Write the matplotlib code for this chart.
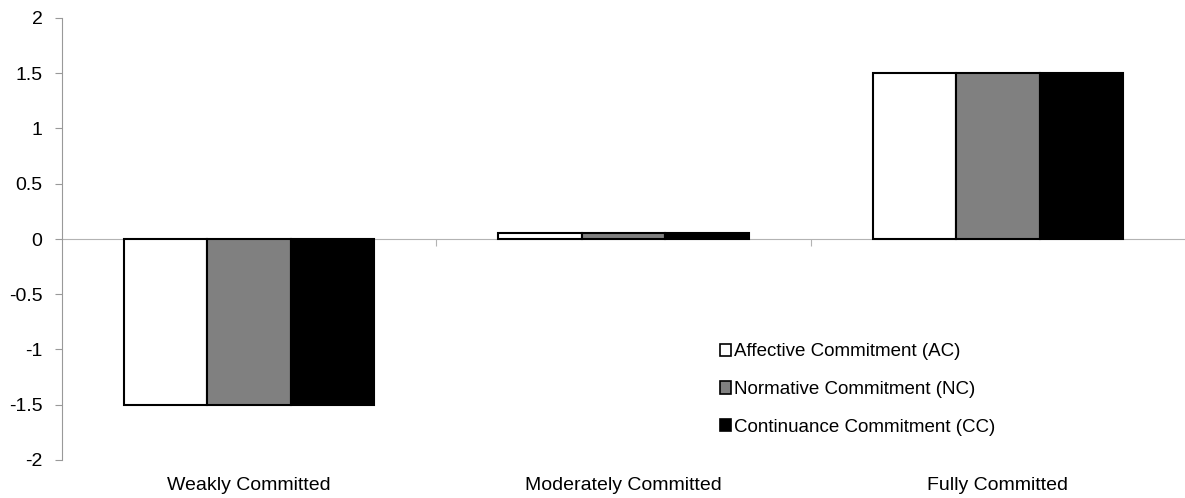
import numpy as np
import matplotlib
matplotlib.use("Agg")
import matplotlib.pyplot as plt
from matplotlib.patches import Patch

plt.rcParams['font.family'] = ['Liberation Sans', 'DejaVu Sans']

# data
categories = ['Weakly Committed', 'Moderately Committed', 'Fully Committed']
series = ['Affective Commitment (AC)', 'Normative Commitment (NC)', 'Continuance Commitment (CC)']
ac = [-1.5, 0.05, 1.5]
nc = [-1.5, 0.05, 1.5]
cc = [-1.5, 0.05, 1.5]
colors = ['white', '#808080', 'black']

fig = plt.figure(figsize=(11.85, 4.98), dpi=100)
ax = fig.add_axes([62/1185, 38/498, 1 - 62/1185, 442/498])

x = np.arange(len(categories))
w = 0.223
for i, (vals, col, name) in enumerate(zip([ac, nc, cc], colors, series)):
    ax.bar(x + (i - 1) * w, vals, w, color=col, edgecolor='black', linewidth=1.5, label=name)

ax.set_xlim(-0.5, 2.5)
ax.set_ylim(-2, 2)
ax.set_yticks(np.arange(-2, 2.01, 0.5))
ax.set_yticklabels(['-2', '-1.5', '-1', '-0.5', '0', '0.5', '1', '1.5', '2'])
ax.tick_params(axis='y', length=5, color='#999999', labelsize=14, pad=9)

# zero line as bottom spine with boundary ticks
for s in ['top', 'right']:
    ax.spines[s].set_visible(False)
ax.spines['bottom'].set_position(('data', 0))
ax.spines['bottom'].set_color('#b3b3b3')
ax.spines['bottom'].set_zorder(0)
ax.spines['left'].set_color('#999999')
ax.set_xticks([0.5, 1.5])
ax.set_xticklabels([])
ax.tick_params(axis='x', length=5, color='#b3b3b3', direction='out')

for xi, lab in zip(x, categories):
    ax.text(xi, -2.23, lab, ha='center', va='center', fontsize=14, clip_on=False)

handles = [Patch(facecolor=c, edgecolor='black', linewidth=1.2) for c in colors]
ax.legend(handles, series, loc='upper left', bbox_to_anchor=(650/1123, 0.281),
          frameon=False, fontsize=13.5, handlelength=0.62, handleheight=0.62,
          handletextpad=0.15, labelspacing=1.11, borderaxespad=0)

fig.savefig('out.png', dpi=100)
